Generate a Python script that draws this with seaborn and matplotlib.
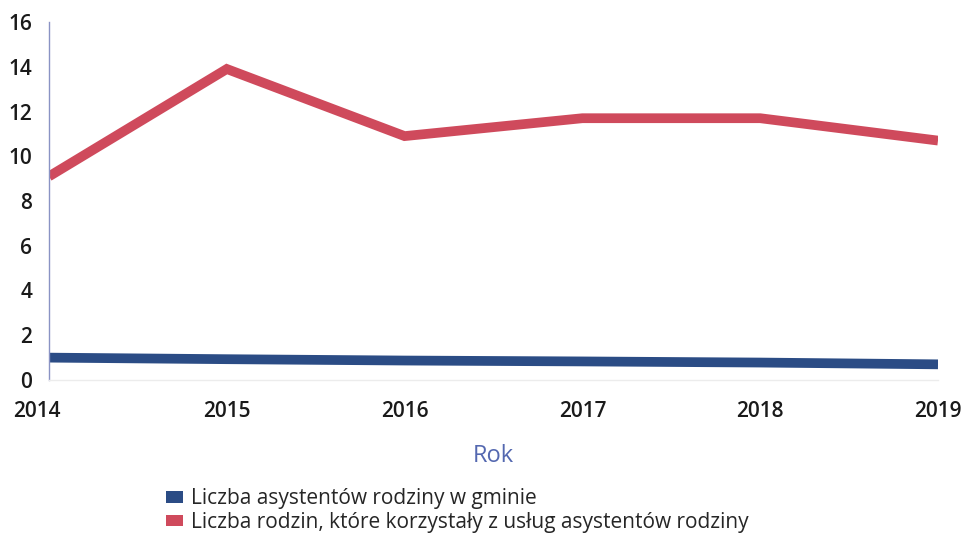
import matplotlib
matplotlib.use("Agg")
import matplotlib.pyplot as plt
from matplotlib.patches import Patch
from matplotlib.transforms import ScaledTranslation
import seaborn as sns
import pandas as pd

years = [2014, 2015, 2016, 2017, 2018, 2019]
asystenci = [1.0, 0.93, 0.87, 0.83, 0.78, 0.7]
rodziny = [9.1, 13.9, 10.9, 11.7, 11.7, 10.7]
series_names = [
    "Liczba asystentów rodziny w gminie",
    "Liczba rodzin, które korzystały z usług asystentów rodziny",
]
colors = ["#2b4c85", "#cf4a5c"]

df = pd.DataFrame({
    "Rok": years * 2,
    "Wartość": asystenci + rodziny,
    "Seria": [series_names[0]] * len(years) + [series_names[1]] * len(years),
})

sns.set_theme(style="white")
plt.rcParams["font.family"] = ["Open Sans", "DejaVu Sans"]

fig = plt.figure(figsize=(9.62, 5.37), dpi=100)
ax = fig.add_axes([49 / 962, 1 - 380 / 537, (938 - 49) / 962, (380 - 22) / 537])

sns.lineplot(data=df, x="Rok", y="Wartość", hue="Seria", palette=colors,
             linewidth=7, ax=ax, legend=False, solid_capstyle="butt",
             solid_joinstyle="miter")

ax.set_xlim(2014, 2019)
ax.set_ylim(0, 16)
ax.set_yticks(range(0, 17, 2))
ax.set_xticks(years)
ax.set_xticklabels([str(y) for y in years])

for side in ["top", "right"]:
    ax.spines[side].set_visible(False)
ax.spines["left"].set_color("#8a93c4")
ax.spines["left"].set_linewidth(1.0)
ax.spines["bottom"].set_color("#ececec")
ax.spines["bottom"].set_linewidth(1.0)

ax.tick_params(axis="both", length=0, labelsize=15, labelcolor="#1a1a1a")
ax.tick_params(axis="x", pad=15)
ax.tick_params(axis="y", pad=12)
for lab in ax.get_xticklabels() + ax.get_yticklabels():
    lab.set_fontweight("semibold")

# first year label sits a little left of the axis line
first = ax.get_xticklabels()[0]
first.set_transform(first.get_transform() +
                    ScaledTranslation(-12 / 100, 0, fig.dpi_scale_trans))

ax.set_ylabel("")
ax.set_xlabel("Rok", fontsize=17, color="#5468b0", labelpad=16)

handles = [Patch(facecolor=c, edgecolor="none") for c in colors]
fig.legend(handles, series_names, loc="upper left",
           bbox_to_anchor=(158 / 962, 1 - 480 / 537), frameon=False,
           fontsize=15, handlelength=0.8, handleheight=0.5,
           handletextpad=0.4, labelspacing=0.12, borderaxespad=0)

fig.savefig("out.png", dpi=100)
